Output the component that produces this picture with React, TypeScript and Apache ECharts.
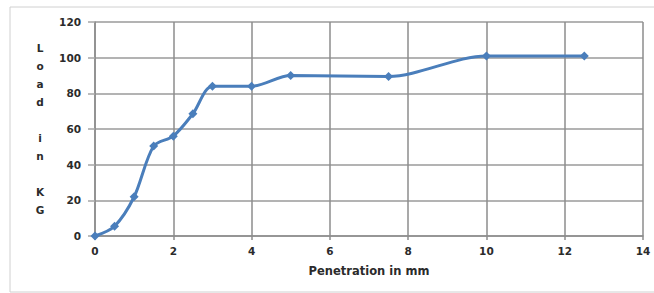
import React, { useEffect, useRef } from "react";
import * as echarts from "echarts";

const penetration = [0, 0.5, 1, 1.5, 2, 2.5, 3, 4, 5, 7.5, 10, 12.5];
const load = [0, 5.5, 22, 50.5, 56, 68.5, 84, 84, 90, 89.5, 101, 101];
const xTicks = { min: 0, max: 14, interval: 2 };
const yTicks = { min: 0, max: 120, interval: 20 };
const xTitle = "Penetration in mm";
const yTitle = ["L", "o", "a", "d", "", "i", "n", "", "K", "G"];

export default function App() {
  const ref = useRef<HTMLDivElement>(null);
  useEffect(() => {
    if (!ref.current) return;
    const chart = echarts.init(ref.current, null, { renderer: "svg" });
    const labelStyle = {
      color: "#2b2b2b",
      fontSize: 10.5,
      fontWeight: "bold" as const,
      fontFamily: "DejaVu Sans",
    };
    chart.setOption({
      animation: false,
      backgroundColor: "#fff",
      graphic: [
        {
          type: "rect",
          shape: { x: 10, y: 7, width: 660, height: 285 },
          style: { fill: "none", stroke: "#d0d0d0", lineWidth: 1 },
          silent: true,
        },
      ],
      grid: { left: 95, right: 11, top: 22, bottom: 57 },
      xAxis: {
        type: "value",
        min: xTicks.min,
        max: xTicks.max,
        interval: xTicks.interval,
        name: xTitle,
        nameLocation: "middle",
        nameGap: 29,
        nameTextStyle: { ...labelStyle, fontSize: 11.5 },
        axisLine: { show: true, lineStyle: { color: "#8c8c8c", width: 1.5 } },
        axisTick: { show: true, length: 4, lineStyle: { color: "#8c8c8c", width: 1.5 } },
        axisLabel: { ...labelStyle, margin: 9 },
        splitLine: { show: true, lineStyle: { color: "#8c8c8c", width: 1.5 } },
      },
      yAxis: {
        type: "value",
        min: yTicks.min,
        max: yTicks.max,
        interval: yTicks.interval,
        name: yTitle.join("\n"),
        nameLocation: "middle",
        nameRotate: 0,
        nameGap: 55,
        nameTextStyle: { ...labelStyle, align: "center", verticalAlign: "middle", lineHeight: 18 },
        axisLine: { show: true, lineStyle: { color: "#8c8c8c", width: 1.5 } },
        axisTick: { show: true, length: 7, lineStyle: { color: "#a6a6a6", width: 1.5 } },
        axisLabel: { ...labelStyle, margin: 14 },
        splitLine: { show: true, lineStyle: { color: "#b3b3b3", width: 2 } },
      },
      series: [
        {
          type: "line",
          data: penetration.map((x, i) => [x, load[i]]),
          smooth: 0.3,
          symbol: "diamond",
          symbolSize: 9,
          itemStyle: { color: "#4a7ebb" },
          lineStyle: { color: "#4a7ebb", width: 3 },
        },
      ],
    });
    return () => chart.dispose();
  }, []);
  return (
    <div
      ref={ref}
      style={{ position: "absolute", left: 0, top: 0, width: 654, height: 293 }}
    />
  );
}
